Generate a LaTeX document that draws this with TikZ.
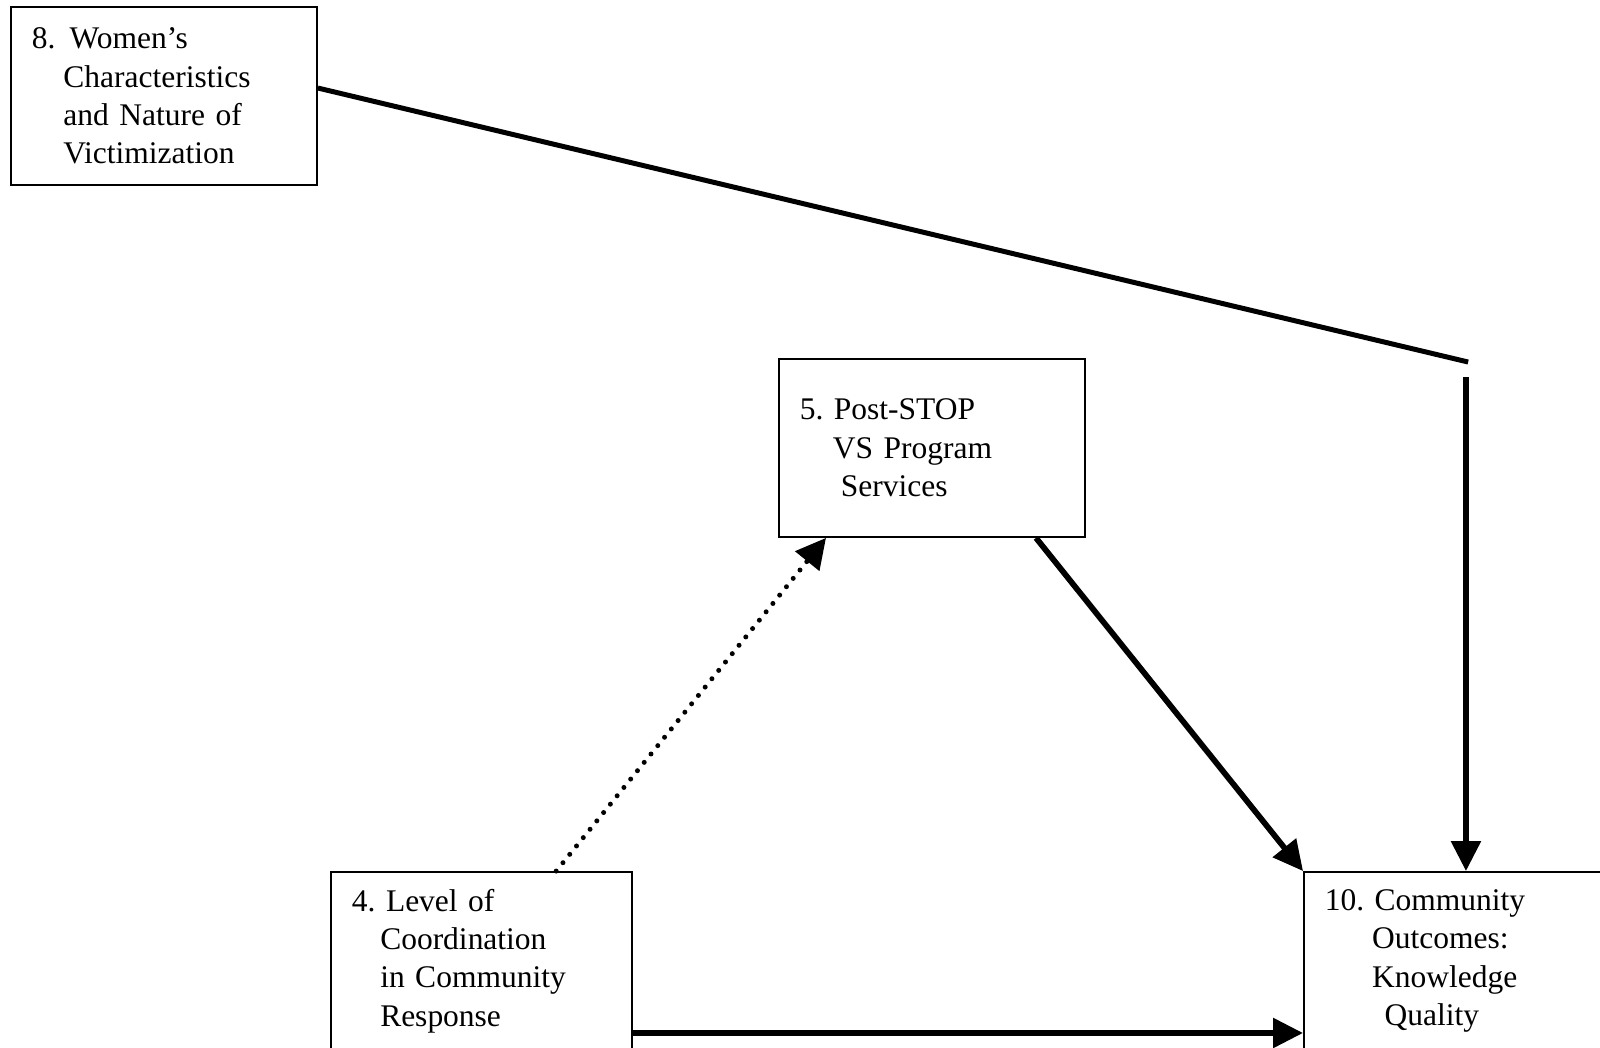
\documentclass[tikz,border=0pt]{standalone}
\usepackage{fontspec}
\setmainfont{Liberation Serif}
\frenchspacing
\usetikzlibrary{
    arrows.meta,
    positioning,
    calc
}
\tikzset{
    % Factor box style
    factor/.style={
        rectangle,
        draw=black,
        line width=0.7pt,
        text width=#1,
        align=left,
        inner xsep=0.28cm,
        inner ysep=0pt,
        minimum height=2.384cm,
        font=\fontsize{12}{14.6}\selectfont
    },
    % Arrow styles
    flow/.style={
        -{Triangle[length=11.4pt, width=11pt]},
        line width=2.2pt
    },
    dotflow/.style={
        -{Triangle[length=11.4pt, width=11.5pt]},
        line width=1.9pt,
        line cap=round,
        dash pattern=on 0pt off 4.1pt
    },
    link/.style={
        line width=1.9pt
    }
}
\begin{document}
\begin{tikzpicture}

        \useasboundingbox (0,0) rectangle (21.426,-14.034);
        \clip (0,0) rectangle (21.426,-14.034);

        % Factors
        \node[factor=3.538cm] (women) at (2.196,-1.286) {8.\hspace{0.45em}Women’s\\\hspace*{1em}Characteristics\\\hspace*{1em}and Nature of\\\hspace*{1em}Victimization};
        \node[factor=3.538cm] (services) at (12.480,-5.999) {5. Post-STOP\\\hspace*{1.05em}VS Program\\\hspace*{1.3em}Services};
        \node[factor=3.471cm] (coord) at (6.448,-12.869) {4. Level of\\\hspace*{0.9em}Coordination\\\hspace*{0.9em}in Community\\\hspace*{0.9em}Response};
        \node[factor=3.779cm] (outcomes) at (19.631,-12.869) {10. Community\\\hspace*{1.5em}Outcomes:\\\hspace*{1.5em}Knowledge\\\hspace*{1.9em}Quality};

        % Bend of the long line
        \coordinate (bend) at (19.66,-4.848);
        \coordinate (drop) at (19.631,-5.05);

        % Links
        \draw[link] ([yshift=0.107cm]women.east) -- (bend);
        \draw[flow] (drop) -- (outcomes.north);
        \draw[dotflow] ([xshift=1cm]coord.north) -- ([xshift=-1.419cm]services.south);
        \draw[flow] ([xshift=1.393cm]services.south) -- (outcomes.north west);
        \draw[flow] ([yshift=-0.964cm]coord.east) -- ([yshift=-0.964cm]outcomes.west);

    \end{tikzpicture}
\end{document}
